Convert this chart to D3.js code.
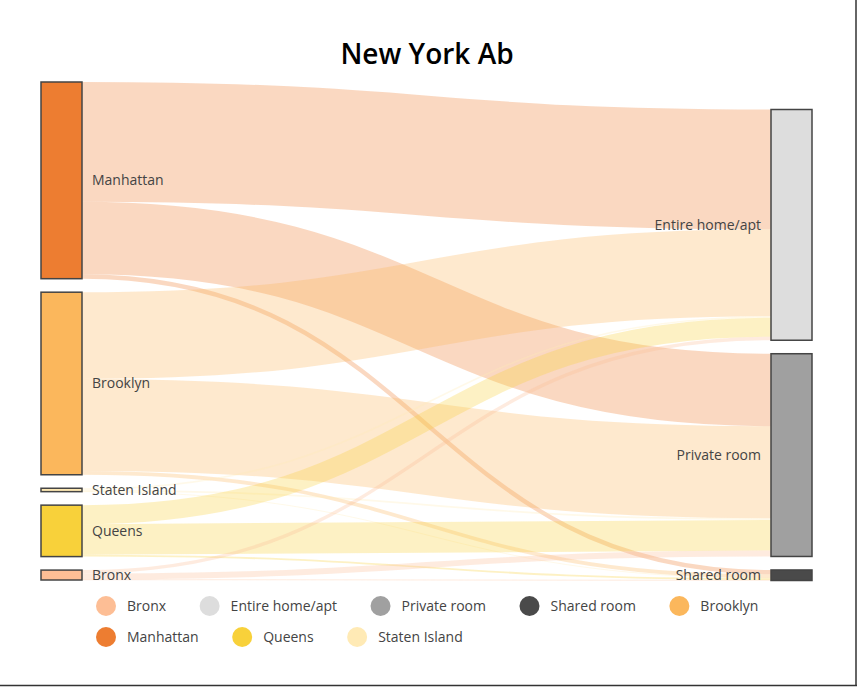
<!DOCTYPE html>
<html>
<head>
<meta charset="utf-8">
<script src="https://cdn.jsdelivr.net/npm/d3@7"></script>
<style>
  body { margin: 0; background: #fff; }
  text { font-family: "Segoe UI", "Open Sans", sans-serif; }
</style>
</head>
<body>
<script>
// Data: NYC listings by borough and room type
var boroughs = ["Manhattan", "Brooklyn", "Staten Island", "Queens", "Bronx"];
var boroughColors = ["#ED7D31", "#FBB75C", "#FFEAB5", "#F8D13A", "#FDBE95"];
var roomTypes = ["Entire home/apt", "Private room", "Shared room"];
var roomColors = ["#DDDDDD", "#A0A0A0", "#4A4A4A"];
// listings per borough (same order as boroughs)
var entireHome = [13199, 9559, 176, 2096, 379];
var privateRoom = [7982, 10132, 188, 3372, 652];
var sharedRoom = [480, 413, 9, 198, 60];
var legendItems = ["Bronx", "Entire home/apt", "Private room", "Shared room", "Brooklyn",
                   "Manhattan", "Queens", "Staten Island"];

window.onload = () => {
  var width = 858, height = 687;
  var nodeWidth = 41, pad = 13.5;
  var left = 41, right = 812, top = 82, bottom = 580;

  var svg = d3.select("body").append("svg")
    .attr("width", width)
    .attr("height", height);

  var colorOf = d3.scaleOrdinal()
    .domain(boroughs.concat(roomTypes))
    .range(boroughColors.concat(roomColors));

  // build the links table
  var byRoom = [entireHome, privateRoom, sharedRoom];
  var links = [];
  boroughs.forEach(function(b, i) {
    roomTypes.forEach(function(r, j) {
      links.push({source: b, target: r, value: byRoom[j][i]});
    });
  });

  var total = d3.sum(links, function(d) { return d.value; });
  var k = (bottom - top - (boroughs.length - 1) * pad) / total;
  var h = d3.scaleLinear().domain([0, total]).range([0, total * k]);

  // node layout
  var nodes = {};
  var y = top;
  boroughs.forEach(function(b, i) {
    var v = entireHome[i] + privateRoom[i] + sharedRoom[i];
    nodes[b] = {name: b, x0: left, x1: left + nodeWidth, y0: y, y1: y + h(v), side: "left"};
    y += h(v) + pad;
  });
  var roomTotals = byRoom.map(function(a) { return d3.sum(a); });
  y = bottom - h(total) - (roomTypes.length - 1) * pad + 0.5;
  roomTypes.forEach(function(r, j) {
    nodes[r] = {name: r, x0: right - nodeWidth, x1: right, y0: y, y1: y + h(roomTotals[j]), side: "right"};
    y += h(roomTotals[j]) + pad;
  });

  // link offsets
  var outOff = {}, inOff = {};
  links.forEach(function(l) {
    var s = nodes[l.source], t = nodes[l.target];
    var w = h(l.value);
    var so = outOff[l.source] || 0, to = inOff[l.target] || 0;
    l.width = w;
    l.x0 = s.x1; l.y0 = s.y0 + so + w / 2;
    l.x1 = t.x0; l.y1 = t.y0 + to + w / 2;
    outOff[l.source] = so + w;
    inOff[l.target] = to + w;
  });

  var link = d3.linkHorizontal()
    .source(function(d) { return [d.x0, d.y0]; })
    .target(function(d) { return [d.x1, d.y1]; });

  svg.append("g")
    .attr("fill", "none")
    .selectAll("path")
    .data(links)
    .enter().append("path")
    .attr("d", link)
    .attr("stroke", function(d) { return colorOf(d.source); })
    .attr("stroke-opacity", 0.3)
    .attr("stroke-width", function(d) { return Math.max(1, d.width); });

  var nodeList = Object.values(nodes);
  svg.append("g")
    .selectAll("rect")
    .data(nodeList)
    .enter().append("rect")
    .attr("x", function(d) { return d.x0; })
    .attr("y", function(d) { return d.y0; })
    .attr("width", function(d) { return d.x1 - d.x0; })
    .attr("height", function(d) { return Math.max(1, d.y1 - d.y0); })
    .attr("fill", function(d) { return colorOf(d.name); })
    .attr("stroke", "#444")
    .attr("stroke-width", 1.5);

  svg.append("g")
    .selectAll("text")
    .data(nodeList)
    .enter().append("text")
    .attr("x", function(d) { return d.side == "left" ? d.x1 + 10 : d.x0 - 10; })
    .attr("y", function(d) { return (d.y0 + d.y1) / 2; })
    .attr("dy", "0.35em")
    .attr("text-anchor", function(d) { return d.side == "left" ? "start" : "end"; })
    .attr("font-size", 14)
    .attr("fill", "#444")
    .text(function(d) { return d.name; });

  // title
  svg.append("text")
    .attr("x", 427)
    .attr("y", 64)
    .attr("text-anchor", "middle")
    .attr("font-size", 28)
    .attr("font-weight", 600)
    .attr("fill", "#000")
    .text("New York Ab");

  // legend, flowing into rows
  var legend = svg.append("g");
  var lx = 106, ly = 606, maxX = 820;
  legendItems.forEach(function(name) {
    var g = legend.append("g");
    g.append("circle").attr("r", 10).attr("fill", colorOf(name));
    var t = g.append("text")
      .attr("x", 21).attr("dy", "0.35em")
      .attr("font-size", 14).attr("fill", "#444")
      .text(name);
    var w = t.node().getComputedTextLength();
    if (lx + 21 + w > maxX) { lx = 106; ly += 31; }
    g.attr("transform", "translate(" + lx + "," + ly + ")");
    lx += 21 + w + 43.5;
  });

  // frame edges
  svg.append("line").attr("x1", 856).attr("x2", 856).attr("y1", 0).attr("y2", 686)
    .attr("stroke", "#333").attr("stroke-width", 1.5);
  svg.append("line").attr("x1", 0).attr("x2", 857).attr("y1", 685.5).attr("y2", 685.5)
    .attr("stroke", "#333").attr("stroke-width", 1.5);
};
</script>
</body>
</html>
